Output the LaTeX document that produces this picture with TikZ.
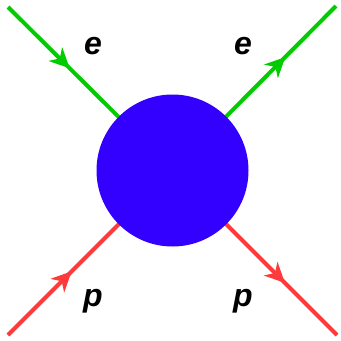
\documentclass[tikz,border=0pt]{standalone}
\usepackage{fontspec}
\setmainfont{Liberation Sans}
\usetikzlibrary{arrows.meta,decorations.markings}
\definecolor{egreen}{RGB}{0,204,0}
\definecolor{pred}{RGB}{255,58,58}
\definecolor{blobblue}{RGB}{51,0,255}
\begin{document}
\begin{tikzpicture}[x=1pt,y=-1pt,
  fermion/.style={line width=4pt,postaction={decorate},
    decoration={markings,mark=at position #1 with {\arrow{Stealth[length=20pt,width=19pt,inset=6pt]}}}},
  lbl/.style={font=\fontsize{32}{38}\selectfont\bfseries\itshape,inner sep=0pt}]
\useasboundingbox (0,0) rectangle (341,341);
\coordinate (tl) at (8,7);
\coordinate (tr) at (336,6);
\coordinate (bl) at (8,335);
\coordinate (br) at (337,335);
\coordinate (c) at (172.5,170.5);
\draw[fermion=87pt,egreen] (tl) -- (c);
\draw[fermion=160pt,egreen] (c) -- (tr);
\draw[fermion=90pt,pred] (bl) -- (c);
\draw[fermion=159pt,pred] (c) -- (br);
\node[circle,fill=blobblue,minimum size=152pt,inner sep=0pt] (blob) at (c) {};
\node[lbl] (e1) at (93,46) {e};
\node[lbl] (e2) at (243,46) {e};
\node[lbl] (p1) at (93,301) {p};
\node[lbl] (p2) at (243,301) {p};
\end{tikzpicture}
\end{document}
